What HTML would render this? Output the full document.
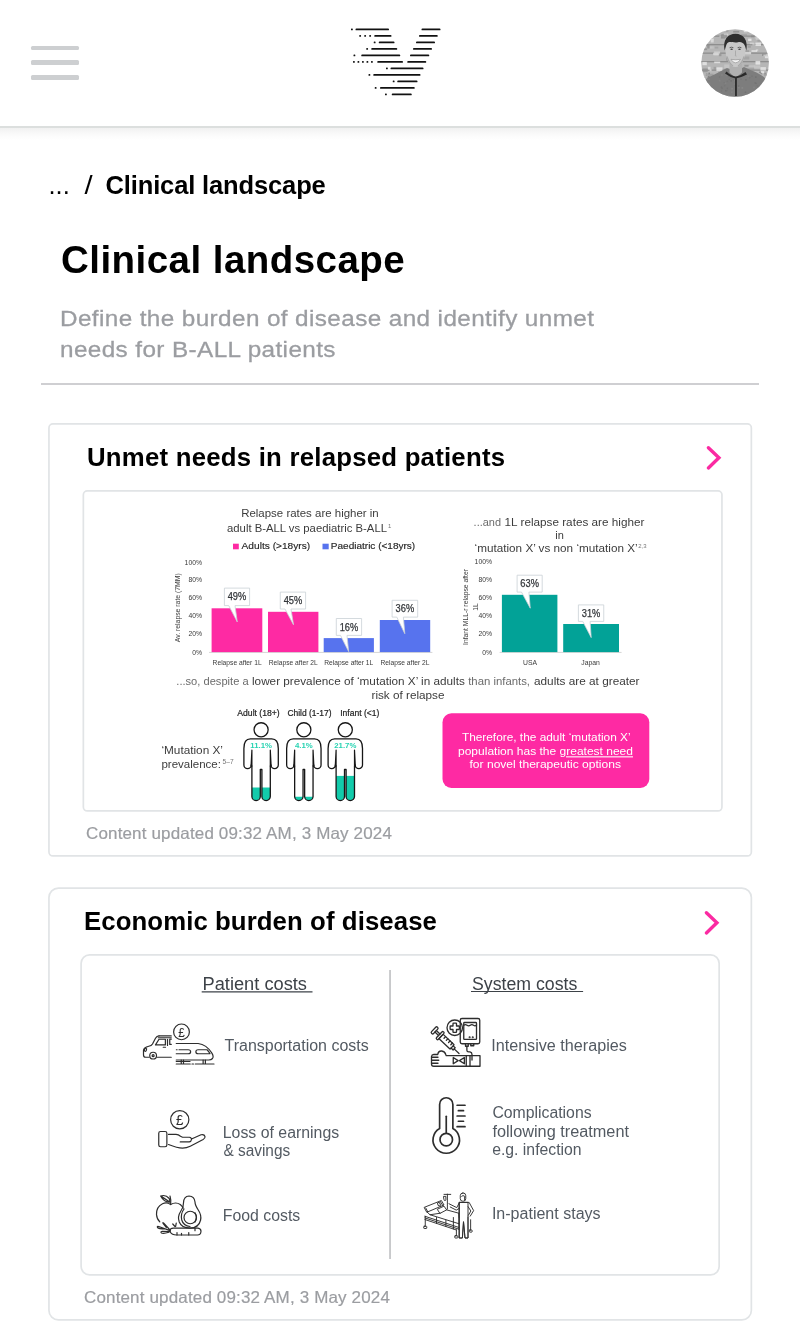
<!DOCTYPE html>
<html lang="en">
<head>
<meta charset="utf-8">
<title>Clinical landscape</title>
<style>
*{box-sizing:border-box;margin:0;padding:0}
html,body{width:800px;height:1340px;background:#fff;overflow:hidden}
body{position:relative;will-change:transform;font-family:"Liberation Sans",sans-serif;color:#000}
.abs{position:absolute;white-space:nowrap}
header{position:absolute;left:0;top:0;width:800px;height:126px;background:#fff;border-bottom:0}
.hline{position:absolute;left:0;top:126px;width:800px;height:2px;background:#dcdfde}
.hshadow{position:absolute;left:0;top:128px;width:800px;height:12px;background:linear-gradient(#f1f1f1,#fbfbfb 60%,#fff)}
.burger{position:absolute;left:31px;top:45.5px;width:48px;height:34.5px}
.burger i{position:absolute;left:0;width:48px;height:4.6px;border-radius:1.5px;background:#cdcfd1}
.logo{position:absolute;left:340px;top:20px;width:110px;height:85px}
.avatar{position:absolute;left:701px;top:28.5px;width:68px;height:68px}
nav.crumbs{position:absolute;left:0;top:0}
.crumbs span{position:absolute;white-space:nowrap;font-size:25.5px;line-height:28px;top:171.3px}
h1{position:absolute;left:61px;top:237px;font-size:38.5px;line-height:46px;font-weight:bold;letter-spacing:.46px;white-space:nowrap}
p.lead{position:absolute;left:60px;top:302.7px;-webkit-text-stroke:.3px #9b9da1;font-size:22.5px;line-height:31.5px;letter-spacing:.36px;color:#9b9da1;white-space:nowrap;transform:scaleX(1.08);transform-origin:0 50%}
hr{position:absolute;left:41px;top:383px;width:718px;height:1.5px;border:0;background:#cfcfd2}
.card{position:absolute;background:#fff}
.card svg.figsvg{position:absolute;left:0;top:0;display:block}
.card h2{position:absolute;font-size:25px;line-height:28px;font-weight:bold;white-space:nowrap;transform:scaleX(1.03);transform-origin:0 50%}
.card .upd{position:absolute;font-size:16.5px;line-height:20px;color:#9b9da1;letter-spacing:.15px;transform:scaleX(1.03);transform-origin:0 50%;white-space:nowrap;-webkit-text-stroke:.2px #9b9da1}
.card svg.chev{position:absolute}
svg text{font-family:"Liberation Sans",sans-serif}
</style>
</head>
<body>
<header>
  <div class="burger"><i style="top:0"></i><i style="top:14.8px"></i><i style="top:29.5px"></i></div>
  <svg class="logo" viewBox="340 20 110 85" fill="#111" aria-label="logo"><rect x="351.00" y="28.50" width="1.8" height="1.8" rx=".6"/><rect x="355.50" y="28.45" width="33.50" height="1.9" rx=".9"/><rect x="421.50" y="28.45" width="19.00" height="1.9" rx=".9"/><rect x="359.25" y="35.00" width="1.8" height="1.8" rx=".6"/><rect x="364.25" y="35.00" width="1.8" height="1.8" rx=".6"/><rect x="369.25" y="35.00" width="1.8" height="1.8" rx=".6"/><rect x="374.25" y="34.95" width="17.25" height="1.9" rx=".9"/><rect x="419.00" y="34.95" width="18.75" height="1.9" rx=".9"/><rect x="373.75" y="41.50" width="1.8" height="1.8" rx=".6"/><rect x="378.75" y="41.45" width="15.75" height="1.9" rx=".9"/><rect x="416.00" y="41.45" width="19.00" height="1.9" rx=".9"/><rect x="366.25" y="48.00" width="1.8" height="1.8" rx=".6"/><rect x="371.25" y="47.95" width="26.00" height="1.9" rx=".9"/><rect x="413.00" y="47.95" width="19.00" height="1.9" rx=".9"/><rect x="353.50" y="54.50" width="1.8" height="1.8" rx=".6"/><rect x="361.25" y="54.45" width="39.00" height="1.9" rx=".9"/><rect x="410.00" y="54.45" width="19.25" height="1.9" rx=".9"/><rect x="353.00" y="61.00" width="1.8" height="1.8" rx=".6"/><rect x="357.50" y="61.00" width="1.8" height="1.8" rx=".6"/><rect x="362.00" y="61.00" width="1.8" height="1.8" rx=".6"/><rect x="366.50" y="61.00" width="1.8" height="1.8" rx=".6"/><rect x="371.00" y="61.00" width="1.8" height="1.8" rx=".6"/><rect x="377.25" y="60.95" width="25.75" height="1.9" rx=".9"/><rect x="407.25" y="60.95" width="19.00" height="1.9" rx=".9"/><rect x="386.00" y="67.50" width="1.8" height="1.8" rx=".6"/><rect x="390.50" y="67.45" width="33.00" height="1.9" rx=".9"/><rect x="368.50" y="74.00" width="1.8" height="1.8" rx=".6"/><rect x="373.25" y="73.95" width="47.25" height="1.9" rx=".9"/><rect x="392.75" y="80.50" width="1.8" height="1.8" rx=".6"/><rect x="397.25" y="80.45" width="20.25" height="1.9" rx=".9"/><rect x="374.75" y="87.00" width="1.8" height="1.8" rx=".6"/><rect x="380.00" y="86.95" width="34.75" height="1.9" rx=".9"/><rect x="385.00" y="93.50" width="1.8" height="1.8" rx=".6"/><rect x="391.75" y="93.45" width="20.00" height="1.9" rx=".9"/></svg>
  <svg class="avatar" viewBox="701 28.500 68 68" aria-label="user avatar">
    <defs>
      <clipPath id="avc"><circle cx="735.1" cy="62.500" r="33.800"/></clipPath>
      <filter id="avb"><feGaussianBlur stdDeviation=".45"/></filter>
      <filter id="avb2"><feGaussianBlur stdDeviation=".7"/></filter>
    </defs>
    <g clip-path="url(#avc)">
      <rect x="700" y="28" width="70" height="70" fill="#b6b6b6"/>
      <g fill="#8e8e8e">
        <rect x="700" y="35" width="70" height="1.300"/><rect x="700" y="43.500" width="70" height="1.300"/><rect x="700" y="52" width="70" height="1.300"/>
        <rect x="700" y="60.500" width="70" height="1.300"/><rect x="700" y="69" width="70" height="1.300"/>
      </g>
      <g filter="url(#avb2)"><rect x="730.9" y="57.5" width="6.6" height="2.7" fill="#f0f0f0" opacity=".75"/><rect x="757.4" y="38.7" width="6.0" height="2.7" fill="#a0a0a0" opacity=".75"/><rect x="707.2" y="44.5" width="2.5" height="3.5" fill="#8a8a8a" opacity=".75"/><rect x="740.3" y="49.2" width="4.3" height="3.3" fill="#a0a0a0" opacity=".75"/><rect x="742.1" y="71.4" width="2.3" height="1.6" fill="#d8d8d8" opacity=".75"/><rect x="740.6" y="68.7" width="3.6" height="3.0" fill="#d8d8d8" opacity=".75"/><rect x="735.3" y="61.7" width="4.5" height="3.2" fill="#909090" opacity=".75"/><rect x="744.2" y="49.7" width="4.8" height="3.8" fill="#989898" opacity=".75"/><rect x="747.7" y="45.1" width="3.1" height="2.2" fill="#989898" opacity=".75"/><rect x="738.2" y="34.5" width="2.5" height="2.2" fill="#989898" opacity=".75"/><rect x="764.2" y="72.2" width="2.0" height="2.0" fill="#8a8a8a" opacity=".75"/><rect x="732.0" y="79.0" width="4.0" height="1.7" fill="#d8d8d8" opacity=".75"/><rect x="752.4" y="42.8" width="2.4" height="2.3" fill="#c8c8c8" opacity=".75"/><rect x="751.0" y="35.0" width="3.2" height="1.8" fill="#8a8a8a" opacity=".75"/><rect x="731.7" y="53.8" width="5.4" height="2.0" fill="#f0f0f0" opacity=".75"/><rect x="713.6" y="66.3" width="2.7" height="3.1" fill="#989898" opacity=".75"/><rect x="727.1" y="79.5" width="2.0" height="3.7" fill="#e4e4e4" opacity=".75"/><rect x="766.9" y="30.0" width="2.9" height="4.0" fill="#989898" opacity=".75"/><rect x="703.8" y="36.5" width="4.2" height="1.5" fill="#ececec" opacity=".75"/><rect x="755.8" y="48.7" width="2.4" height="2.0" fill="#d8d8d8" opacity=".75"/><rect x="702.0" y="47.8" width="5.1" height="1.8" fill="#909090" opacity=".75"/><rect x="755.9" y="35.9" width="3.9" height="3.1" fill="#e4e4e4" opacity=".75"/><rect x="761.0" y="70.7" width="3.2" height="2.0" fill="#f0f0f0" opacity=".75"/><rect x="714.0" y="77.5" width="6.4" height="3.0" fill="#c8c8c8" opacity=".75"/><rect x="704.1" y="34.6" width="4.6" height="2.1" fill="#c8c8c8" opacity=".75"/><rect x="718.0" y="71.0" width="5.0" height="2.2" fill="#a0a0a0" opacity=".75"/><rect x="762.3" y="78.8" width="2.6" height="2.7" fill="#989898" opacity=".75"/><rect x="719.5" y="75.8" width="3.0" height="1.5" fill="#e4e4e4" opacity=".75"/><rect x="728.2" y="41.7" width="2.2" height="2.2" fill="#f0f0f0" opacity=".75"/><rect x="738.8" y="35.7" width="3.8" height="3.7" fill="#ececec" opacity=".75"/><rect x="744.4" y="64.3" width="4.9" height="1.9" fill="#8a8a8a" opacity=".75"/><rect x="762.0" y="53.2" width="3.8" height="2.3" fill="#8a8a8a" opacity=".75"/><rect x="702.4" y="61.4" width="4.4" height="3.3" fill="#ececec" opacity=".75"/><rect x="710.0" y="32.7" width="4.3" height="2.4" fill="#8a8a8a" opacity=".75"/><rect x="760.4" y="66.6" width="5.5" height="3.5" fill="#ececec" opacity=".75"/><rect x="724.2" y="63.9" width="6.5" height="3.7" fill="#c8c8c8" opacity=".75"/><rect x="763.3" y="30.5" width="4.5" height="1.5" fill="#c8c8c8" opacity=".75"/><rect x="726.0" y="29.6" width="2.4" height="1.7" fill="#989898" opacity=".75"/><rect x="766.6" y="73.9" width="5.6" height="2.5" fill="#909090" opacity=".75"/><rect x="730.1" y="71.8" width="2.4" height="3.4" fill="#8a8a8a" opacity=".75"/><rect x="721.5" y="33.5" width="2.1" height="3.9" fill="#989898" opacity=".75"/><rect x="733.8" y="60.3" width="6.6" height="2.1" fill="#8a8a8a" opacity=".75"/><rect x="725.3" y="36.3" width="5.1" height="2.8" fill="#ececec" opacity=".75"/><rect x="744.6" y="51.5" width="6.5" height="2.3" fill="#e4e4e4" opacity=".75"/><rect x="714.1" y="51.0" width="6.0" height="3.8" fill="#d8d8d8" opacity=".75"/><rect x="726.4" y="58.7" width="3.6" height="1.8" fill="#909090" opacity=".75"/><rect x="724.1" y="74.7" width="2.2" height="1.7" fill="#e4e4e4" opacity=".75"/><rect x="755.2" y="34.8" width="4.4" height="3.8" fill="#c8c8c8" opacity=".75"/><rect x="726.2" y="55.5" width="5.4" height="3.3" fill="#909090" opacity=".75"/><rect x="722.1" y="71.3" width="3.4" height="3.0" fill="#e4e4e4" opacity=".75"/><rect x="738.7" y="44.8" width="6.0" height="1.5" fill="#a0a0a0" opacity=".75"/><rect x="727.7" y="38.7" width="5.8" height="2.2" fill="#a0a0a0" opacity=".75"/><rect x="753.6" y="79.2" width="2.6" height="1.8" fill="#f0f0f0" opacity=".75"/><rect x="744.2" y="70.2" width="6.8" height="3.2" fill="#d8d8d8" opacity=".75"/><rect x="755.4" y="42.1" width="5.6" height="3.4" fill="#f0f0f0" opacity=".75"/><rect x="748.1" y="38.1" width="3.4" height="2.4" fill="#f0f0f0" opacity=".75"/><rect x="734.0" y="79.8" width="2.8" height="3.6" fill="#d8d8d8" opacity=".75"/><rect x="706.8" y="76.6" width="5.6" height="1.8" fill="#909090" opacity=".75"/><rect x="714.0" y="74.3" width="2.0" height="2.9" fill="#f0f0f0" opacity=".75"/><rect x="753.6" y="77.2" width="4.3" height="3.1" fill="#d8d8d8" opacity=".75"/><rect x="707.5" y="73.2" width="6.0" height="3.8" fill="#989898" opacity=".75"/><rect x="715.1" y="74.9" width="6.9" height="3.9" fill="#f0f0f0" opacity=".75"/><rect x="765.5" y="76.5" width="3.3" height="3.3" fill="#8a8a8a" opacity=".75"/><rect x="724.0" y="33.2" width="4.2" height="2.9" fill="#e4e4e4" opacity=".75"/><rect x="733.2" y="30.4" width="6.0" height="1.7" fill="#8a8a8a" opacity=".75"/><rect x="712.4" y="46.1" width="5.9" height="1.9" fill="#a0a0a0" opacity=".75"/><rect x="767.0" y="74.9" width="4.6" height="3.2" fill="#909090" opacity=".75"/><rect x="763.4" y="54.1" width="6.7" height="1.7" fill="#d8d8d8" opacity=".75"/><rect x="730.0" y="57.5" width="6.2" height="2.9" fill="#a0a0a0" opacity=".75"/><rect x="735.5" y="72.0" width="4.8" height="2.3" fill="#c8c8c8" opacity=".75"/><rect x="764.0" y="73.4" width="5.0" height="2.3" fill="#a0a0a0" opacity=".75"/><rect x="764.9" y="55.7" width="4.9" height="2.0" fill="#f0f0f0" opacity=".75"/><rect x="708.5" y="29.3" width="3.9" height="2.8" fill="#8a8a8a" opacity=".75"/><rect x="735.1" y="49.4" width="6.0" height="2.9" fill="#909090" opacity=".75"/><rect x="707.2" y="37.5" width="6.7" height="2.6" fill="#c8c8c8" opacity=".75"/><rect x="718.8" y="53.1" width="2.6" height="2.6" fill="#909090" opacity=".75"/><rect x="735.6" y="34.5" width="4.1" height="1.6" fill="#e4e4e4" opacity=".75"/><rect x="709.5" y="68.7" width="2.1" height="2.0" fill="#d8d8d8" opacity=".75"/><rect x="701.8" y="43.5" width="5.6" height="2.1" fill="#909090" opacity=".75"/><rect x="707.9" y="66.3" width="2.6" height="2.8" fill="#e4e4e4" opacity=".75"/><rect x="748.4" y="64.8" width="6.4" height="1.6" fill="#c8c8c8" opacity=".75"/><rect x="755.5" y="60.4" width="4.7" height="3.7" fill="#f0f0f0" opacity=".75"/><rect x="743.1" y="56.0" width="6.3" height="3.0" fill="#a0a0a0" opacity=".75"/><rect x="716.4" y="66.8" width="6.1" height="3.8" fill="#ececec" opacity=".75"/><rect x="740.8" y="74.4" width="3.0" height="3.4" fill="#d8d8d8" opacity=".75"/><rect x="759.6" y="35.8" width="3.2" height="3.3" fill="#e4e4e4" opacity=".75"/><rect x="726.6" y="51.2" width="6.7" height="2.9" fill="#a0a0a0" opacity=".75"/><rect x="714.2" y="61.0" width="6.0" height="1.7" fill="#ececec" opacity=".75"/><rect x="761.2" y="78.4" width="2.6" height="2.8" fill="#ececec" opacity=".75"/><rect x="734.2" y="64.0" width="2.9" height="1.7" fill="#989898" opacity=".75"/><rect x="702.6" y="67.9" width="5.1" height="3.8" fill="#909090" opacity=".75"/><rect x="710.7" y="38.4" width="3.0" height="3.6" fill="#e4e4e4" opacity=".75"/><rect x="762.2" y="33.9" width="2.3" height="3.9" fill="#909090" opacity=".75"/><rect x="706.1" y="33.9" width="4.0" height="2.6" fill="#ececec" opacity=".75"/><rect x="729.4" y="59.6" width="2.1" height="3.3" fill="#d8d8d8" opacity=".75"/><rect x="713.0" y="52.2" width="5.7" height="2.5" fill="#d8d8d8" opacity=".75"/><rect x="740.9" y="33.8" width="6.0" height="2.3" fill="#989898" opacity=".75"/><rect x="753.9" y="64.9" width="6.3" height="3.1" fill="#c8c8c8" opacity=".75"/><rect x="738.6" y="38.7" width="4.9" height="2.4" fill="#e4e4e4" opacity=".75"/><rect x="719.4" y="34.9" width="5.7" height="1.9" fill="#c8c8c8" opacity=".75"/><rect x="709.8" y="45.8" width="4.7" height="2.4" fill="#c8c8c8" opacity=".75"/><rect x="751.5" y="49.7" width="5.6" height="1.7" fill="#ececec" opacity=".75"/><rect x="720.9" y="34.1" width="6.4" height="4.0" fill="#8a8a8a" opacity=".75"/><rect x="716.3" y="77.2" width="5.3" height="2.3" fill="#c8c8c8" opacity=".75"/><rect x="738.6" y="56.2" width="3.9" height="4.0" fill="#d8d8d8" opacity=".75"/><rect x="747.3" y="67.8" width="6.9" height="1.6" fill="#989898" opacity=".75"/><rect x="749.8" y="42.1" width="4.0" height="1.6" fill="#d8d8d8" opacity=".75"/><rect x="743.8" y="29.5" width="3.3" height="2.2" fill="#ececec" opacity=".75"/><rect x="737.3" y="54.9" width="6.8" height="2.9" fill="#989898" opacity=".75"/><rect x="743.1" y="70.3" width="2.4" height="3.0" fill="#8a8a8a" opacity=".75"/></g>
      <g filter="url(#avb)">
        <path d="M700 100V86C703 78 712 75.500 727 67.500L735.500 71L744 66.500C756 72 766 75 770 84V100Z" fill="#7d7d7d"/>
        <g opacity=".6"><rect x="727.7" y="94.4" width="1.6" height="1.6" fill="#909090"/><rect x="733.2" y="74.4" width="1.6" height="1.6" fill="#909090"/><rect x="737.7" y="85.5" width="1.6" height="1.6" fill="#909090"/><rect x="763.5" y="80.9" width="1.6" height="1.6" fill="#707070"/><rect x="728.5" y="78.1" width="1.6" height="1.6" fill="#707070"/><rect x="721.3" y="87.0" width="1.6" height="1.6" fill="#707070"/><rect x="762.5" y="87.3" width="1.6" height="1.6" fill="#8a8a8a"/><rect x="704.7" y="90.1" width="1.6" height="1.6" fill="#707070"/><rect x="705.7" y="74.1" width="1.6" height="1.6" fill="#909090"/><rect x="706.4" y="78.2" width="1.6" height="1.6" fill="#909090"/><rect x="706.2" y="95.7" width="1.6" height="1.6" fill="#8a8a8a"/><rect x="707.7" y="93.5" width="1.6" height="1.6" fill="#909090"/><rect x="749.0" y="76.5" width="1.6" height="1.6" fill="#747474"/><rect x="705.9" y="72.6" width="1.6" height="1.6" fill="#909090"/><rect x="712.2" y="95.0" width="1.6" height="1.6" fill="#747474"/><rect x="741.6" y="73.0" width="1.6" height="1.6" fill="#707070"/><rect x="729.7" y="73.1" width="1.6" height="1.6" fill="#6c6c6c"/><rect x="725.8" y="74.0" width="1.6" height="1.6" fill="#8a8a8a"/><rect x="731.3" y="87.4" width="1.6" height="1.6" fill="#909090"/><rect x="741.5" y="86.6" width="1.6" height="1.6" fill="#909090"/><rect x="726.3" y="89.3" width="1.6" height="1.6" fill="#747474"/><rect x="764.0" y="89.1" width="1.6" height="1.6" fill="#747474"/><rect x="733.8" y="83.1" width="1.6" height="1.6" fill="#8a8a8a"/><rect x="753.2" y="86.2" width="1.6" height="1.6" fill="#8a8a8a"/><rect x="720.6" y="85.9" width="1.6" height="1.6" fill="#707070"/><rect x="747.7" y="74.9" width="1.6" height="1.6" fill="#8a8a8a"/><rect x="751.2" y="74.9" width="1.6" height="1.6" fill="#747474"/><rect x="735.1" y="87.0" width="1.6" height="1.6" fill="#747474"/><rect x="759.2" y="71.0" width="1.6" height="1.6" fill="#6c6c6c"/><rect x="703.6" y="76.7" width="1.6" height="1.6" fill="#6c6c6c"/><rect x="742.9" y="72.7" width="1.6" height="1.6" fill="#707070"/><rect x="720.8" y="89.7" width="1.6" height="1.6" fill="#747474"/><rect x="738.2" y="86.4" width="1.6" height="1.6" fill="#8a8a8a"/><rect x="734.0" y="79.2" width="1.6" height="1.6" fill="#8a8a8a"/><rect x="725.0" y="89.4" width="1.6" height="1.6" fill="#6c6c6c"/><rect x="754.3" y="81.6" width="1.6" height="1.6" fill="#707070"/><rect x="756.6" y="90.0" width="1.6" height="1.6" fill="#909090"/><rect x="730.2" y="76.7" width="1.6" height="1.6" fill="#747474"/><rect x="726.6" y="87.0" width="1.6" height="1.6" fill="#707070"/><rect x="723.8" y="84.3" width="1.6" height="1.6" fill="#747474"/><rect x="730.4" y="79.6" width="1.6" height="1.6" fill="#6c6c6c"/><rect x="732.6" y="78.4" width="1.6" height="1.6" fill="#707070"/><rect x="708.3" y="84.7" width="1.6" height="1.6" fill="#909090"/><rect x="755.2" y="82.1" width="1.6" height="1.6" fill="#6c6c6c"/><rect x="707.9" y="75.5" width="1.6" height="1.6" fill="#707070"/><rect x="708.2" y="77.9" width="1.6" height="1.6" fill="#8a8a8a"/><rect x="721.1" y="73.7" width="1.6" height="1.6" fill="#8a8a8a"/><rect x="745.1" y="78.5" width="1.6" height="1.6" fill="#6c6c6c"/><rect x="723.6" y="81.5" width="1.6" height="1.6" fill="#707070"/><rect x="761.8" y="94.4" width="1.6" height="1.6" fill="#8a8a8a"/><rect x="731.0" y="90.9" width="1.6" height="1.6" fill="#8a8a8a"/><rect x="732.3" y="75.8" width="1.6" height="1.6" fill="#707070"/><rect x="718.9" y="79.4" width="1.6" height="1.6" fill="#8a8a8a"/><rect x="704.5" y="87.6" width="1.6" height="1.6" fill="#707070"/><rect x="727.8" y="75.1" width="1.6" height="1.6" fill="#707070"/><rect x="726.6" y="80.1" width="1.6" height="1.6" fill="#747474"/><rect x="756.5" y="84.6" width="1.6" height="1.6" fill="#747474"/><rect x="708.7" y="81.8" width="1.6" height="1.6" fill="#8a8a8a"/><rect x="755.0" y="75.8" width="1.6" height="1.6" fill="#6c6c6c"/><rect x="737.8" y="84.8" width="1.6" height="1.6" fill="#6c6c6c"/><rect x="744.7" y="90.9" width="1.6" height="1.6" fill="#6c6c6c"/><rect x="740.2" y="77.9" width="1.6" height="1.6" fill="#707070"/><rect x="708.4" y="72.1" width="1.6" height="1.6" fill="#6c6c6c"/><rect x="760.5" y="72.2" width="1.6" height="1.6" fill="#747474"/><rect x="709.2" y="91.2" width="1.6" height="1.6" fill="#909090"/><rect x="718.7" y="75.7" width="1.6" height="1.6" fill="#707070"/><rect x="724.6" y="81.9" width="1.6" height="1.6" fill="#8a8a8a"/><rect x="724.6" y="95.2" width="1.6" height="1.6" fill="#747474"/><rect x="734.6" y="84.0" width="1.6" height="1.6" fill="#6c6c6c"/><rect x="748.3" y="93.8" width="1.6" height="1.6" fill="#909090"/></g>
        <path d="M729.500 62H742V72L735.500 77.500L729.500 72Z" fill="#b0b0b0"/>
        <path d="M725 73Q730 76.800 735.600 78Q742 76.800 747 74L745.500 71.500Q740 75.500 735.600 76Q730 75 726.500 71Z" fill="#2a2a2a"/>
        <path d="M735 77.500H736.900V95.500H735Z" fill="#2e2e2e"/>
        <path d="M725.500 50C725 41 729 37.500 735.500 37.500C742 37.500 746 41 745.500 50C745.300 58 741.500 66.600 735.500 66.600C729.500 66.600 725.700 58 725.500 50Z" fill="#c8c8c8"/>
        <path d="M724.600 50C722.600 39.500 727.500 33.300 735.500 33.300C743.500 33.300 748.200 39.500 746.400 50L745 45.500C743.500 42 741 41.200 738 41.700C735 42.300 731 41.400 729.200 41.600C727.500 42 726.600 43.500 726 45.500Z" fill="#2f2f2f"/>
        <path d="M729.600 47.200Q731.500 46.200 733.400 47.200M737.600 47.200Q739.500 46.200 741.400 47.200" stroke="#555" stroke-width=".9" fill="none"/>
        <ellipse cx="731.600" cy="48.800" rx="1.300" ry=".8" fill="#444"/><ellipse cx="739.500" cy="48.800" rx="1.300" ry=".8" fill="#444"/>
        <path d="M735.500 50V54.500Q734.500 55.500 736.500 55.600" stroke="#a2a2a2" stroke-width=".8" fill="none"/>
        <path d="M727 56Q729 63 733 65.500M744 56Q742 63 738 65.500" stroke="#a8a8a8" stroke-width="1.200" fill="none"/>
        <path d="M731 58.800Q735.500 60 740.400 58.800Q738.500 62.300 735.600 62.300Q732.800 62.300 731 58.800Z" fill="#f4f4f4" stroke="#7a7a7a" stroke-width=".5"/>
      </g>
    </g>
  </svg>
</header>
<div class="hline"></div><div class="hshadow"></div>

<nav class="crumbs">
  <span style="left:48.5px">...</span>
  <span style="left:84.8px;transform:scale(1.15,1.04);transform-origin:50% 100%">/</span>
  <span style="left:105.5px;font-weight:bold;letter-spacing:-.13px">Clinical landscape</span>
</nav>
<h1>Clinical landscape</h1>
<p class="lead">Define the burden of disease and identify unmet<br>needs for B-ALL patients</p>
<hr>

<section class="card" id="c1" style="left:48px;top:423px;width:705px;height:435px">
  <svg class="figsvg" width="705" height="435" viewBox="48 423 705 435" role="img" aria-label="Unmet needs chart">
<rect x="48.95" y="423.95" width="702.4" height="432" rx="4" fill="#fff" stroke="#e1e4e6" stroke-width="1.7"/><rect x="83.35" y="490.85" width="638.6" height="320.1" rx="4" fill="#fff" stroke="#e1e4e6" stroke-width="1.7"/>
<text x="241.2" y="517" font-size="11" fill="#3c3c3c" textLength="137.5" lengthAdjust="spacingAndGlyphs">Relapse rates are higher in</text>
<text x="227" y="532" font-size="11" fill="#3c3c3c" textLength="160" lengthAdjust="spacingAndGlyphs">adult B-ALL vs paediatric B-ALL</text>
<text x="388" y="527.6" font-size="6" fill="#777">1</text>
<rect x="233" y="543.7" width="5.8" height="5.6" fill="#fe2aa3"/>
<text x="241.6" y="548.8" font-size="9.8" fill="#262626" textLength="68.6" lengthAdjust="spacingAndGlyphs" stroke="#262626" stroke-width=".15">Adults (&gt;18yrs)</text>
<rect x="322.5" y="543.7" width="6.2" height="5.6" fill="#5773ee"/>
<text x="330.8" y="548.8" font-size="9.8" fill="#262626" textLength="84.4" lengthAdjust="spacingAndGlyphs" stroke="#262626" stroke-width=".15">Paediatric (&lt;18yrs)</text>
<text x="202" y="564.8" font-size="6.8" fill="#3a3a3a" text-anchor="end">100%</text>
<text x="202" y="582.4" font-size="6.8" fill="#3a3a3a" text-anchor="end">80%</text>
<text x="202" y="600.4" font-size="6.8" fill="#3a3a3a" text-anchor="end">60%</text>
<text x="202" y="618.4" font-size="6.8" fill="#3a3a3a" text-anchor="end">40%</text>
<text x="202" y="636.4" font-size="6.8" fill="#3a3a3a" text-anchor="end">20%</text>
<text x="202" y="655.0" font-size="6.8" fill="#3a3a3a" text-anchor="end">0%</text>
<text transform="translate(179.5 607.7) rotate(-90)" font-size="6.8" fill="#3a3a3a" text-anchor="middle" textLength="69" lengthAdjust="spacingAndGlyphs">Av. relapse rate (7MM)</text>
<path d="M209 652.4H432.4" stroke="#d5d5d5" stroke-width="1"/>
<rect x="211.6" y="608.3" width="50.7" height="43.8" fill="#fe2aa3"/>
<rect x="268" y="611.8" width="50.4" height="40.3" fill="#fe2aa3"/>
<rect x="323.7" y="638.1" width="50.2" height="14.0" fill="#5773ee"/>
<rect x="379.8" y="620" width="50.4" height="32.1" fill="#5773ee"/>
<path d="M224.4 588.1H249.6V605.6H235L237.25 621.9L228.75 605.6H224.4Z" fill="#fff" stroke="#c9d1d6" stroke-width=".8" stroke-linejoin="round"/>
<text x="237.0" y="600.4" font-size="10.2" fill="#33363a" text-anchor="middle" textLength="18.6" lengthAdjust="spacingAndGlyphs" stroke="#33363a" stroke-width=".25">49%</text>
<path d="M280.25 592.1H305.6V609H291L293.5 624.75L285 609H280.25Z" fill="#fff" stroke="#c9d1d6" stroke-width=".8" stroke-linejoin="round"/>
<text x="292.925" y="604.2" font-size="10.2" fill="#33363a" text-anchor="middle" textLength="18.6" lengthAdjust="spacingAndGlyphs" stroke="#33363a" stroke-width=".25">45%</text>
<path d="M336.3 618.5H361.6V635.4H347L348.65 651.6L340.5 635.4H336.3Z" fill="#fff" stroke="#c9d1d6" stroke-width=".8" stroke-linejoin="round"/>
<text x="348.95000000000005" y="630.5" font-size="10.2" fill="#33363a" text-anchor="middle" textLength="18.6" lengthAdjust="spacingAndGlyphs" stroke="#33363a" stroke-width=".25">16%</text>
<path d="M392.1 600.3H417.7V617.1H403.4L404.8 633.7L396.8 617.1H392.1Z" fill="#fff" stroke="#c9d1d6" stroke-width=".8" stroke-linejoin="round"/>
<text x="404.9" y="612.3" font-size="10.2" fill="#33363a" text-anchor="middle" textLength="18.6" lengthAdjust="spacingAndGlyphs" stroke="#33363a" stroke-width=".25">36%</text>
<text x="237.1" y="665" font-size="6.8" fill="#3a3a3a" text-anchor="middle" textLength="49" lengthAdjust="spacingAndGlyphs">Relapse after 1L</text>
<text x="293.2" y="665" font-size="6.8" fill="#3a3a3a" text-anchor="middle" textLength="49" lengthAdjust="spacingAndGlyphs">Relapse after 2L</text>
<text x="348.8" y="665" font-size="6.8" fill="#3a3a3a" text-anchor="middle" textLength="49" lengthAdjust="spacingAndGlyphs">Relapse after 1L</text>
<text x="405" y="665" font-size="6.8" fill="#3a3a3a" text-anchor="middle" textLength="49" lengthAdjust="spacingAndGlyphs">Relapse after 2L</text>
<text x="473.6" y="525.5" font-size="11" fill="#6b6b6b" textLength="27.4" lengthAdjust="spacingAndGlyphs">...and</text>
<text x="504.6" y="525.5" font-size="11" fill="#3c3c3c" textLength="139.8" lengthAdjust="spacingAndGlyphs">1L relapse rates are higher</text>
<text x="559.5" y="539" font-size="11" fill="#3c3c3c" text-anchor="middle">in</text>
<text x="474.6" y="551.7" font-size="11" fill="#3c3c3c" textLength="163" lengthAdjust="spacingAndGlyphs">‘mutation X’ vs non ‘mutation X’</text>
<text x="638.2" y="548" font-size="6" fill="#777">2,3</text>
<text x="492" y="563.9" font-size="6.8" fill="#3a3a3a" text-anchor="end">100%</text>
<text x="492" y="581.9" font-size="6.8" fill="#3a3a3a" text-anchor="end">80%</text>
<text x="492" y="600.0" font-size="6.8" fill="#3a3a3a" text-anchor="end">60%</text>
<text x="492" y="618.4" font-size="6.8" fill="#3a3a3a" text-anchor="end">40%</text>
<text x="492" y="636.4" font-size="6.8" fill="#3a3a3a" text-anchor="end">20%</text>
<text x="492" y="654.8" font-size="6.8" fill="#3a3a3a" text-anchor="end">0%</text>
<text transform="translate(467.7 607) rotate(-90)" font-size="6.8" fill="#3a3a3a" text-anchor="middle" textLength="76" lengthAdjust="spacingAndGlyphs">Infant MLL-r relapse after</text>
<text transform="translate(477.8 607) rotate(-90)" font-size="6.8" fill="#3a3a3a" text-anchor="middle">1L</text>
<path d="M499.6 652.4H621.6" stroke="#d5d5d5" stroke-width="1"/>
<rect x="501.9" y="594.8" width="55.5" height="57.3" fill="#02a297"/>
<rect x="563.2" y="624" width="55.8" height="28.1" fill="#02a297"/>
<path d="M517.1 575.2H542.2V592.1H528.9L530.25 608.2L521.5 592.1H517.1Z" fill="#fff" stroke="#c9d1d6" stroke-width=".8" stroke-linejoin="round"/>
<text x="529.6500000000001" y="587.3" font-size="10.2" fill="#33363a" text-anchor="middle" textLength="18.6" lengthAdjust="spacingAndGlyphs" stroke="#33363a" stroke-width=".25">63%</text>
<path d="M578.4 604.9H603.75V621.4H590.1L591.2 637.6L582.75 621.4H578.4Z" fill="#fff" stroke="#c9d1d6" stroke-width=".8" stroke-linejoin="round"/>
<text x="591.075" y="616.8" font-size="10.2" fill="#33363a" text-anchor="middle" textLength="18.6" lengthAdjust="spacingAndGlyphs" stroke="#33363a" stroke-width=".25">31%</text>
<text x="530" y="665.1" font-size="6.8" fill="#3a3a3a" text-anchor="middle">USA</text>
<text x="590.6" y="665.1" font-size="6.8" fill="#3a3a3a" text-anchor="middle">Japan</text>
<text x="176.3" y="685" font-size="11" fill="#6b6b6b" textLength="72.3" lengthAdjust="spacingAndGlyphs">...so, despite a</text>
<text x="252" y="685" font-size="11" fill="#3c3c3c" textLength="212.8" lengthAdjust="spacingAndGlyphs">lower prevalence of ‘mutation X’ in adults</text>
<text x="468.2" y="685" font-size="11" fill="#6b6b6b" textLength="61.8" lengthAdjust="spacingAndGlyphs">than infants,</text>
<text x="534" y="685" font-size="11" fill="#3c3c3c" textLength="105.5" lengthAdjust="spacingAndGlyphs">adults are at greater</text>
<text x="408" y="699.4" font-size="11" fill="#3c3c3c" text-anchor="middle" textLength="73" lengthAdjust="spacingAndGlyphs">risk of relapse</text>
<text x="237.3" y="715.7" font-size="8.6" fill="#1e1e1e" textLength="42.4" lengthAdjust="spacingAndGlyphs" stroke="#1e1e1e" stroke-width=".2">Adult (18+)</text>
<text x="287.4" y="715.7" font-size="8.6" fill="#1e1e1e" textLength="44.2" lengthAdjust="spacingAndGlyphs" stroke="#1e1e1e" stroke-width=".2">Child (1-17)</text>
<text x="340.2" y="715.7" font-size="8.6" fill="#1e1e1e" textLength="39.1" lengthAdjust="spacingAndGlyphs" stroke="#1e1e1e" stroke-width=".2">Infant (&lt;1)</text>
<clipPath id="pa"><path d="M250.40 738.9 Q243.90 738.9 243.90 748.4 V765 A3.65 3.65 0 0 0 251.20 765 L251.90 766 V796.4 A4.2 4.2 0 0 0 260.30 796.4 V769.5 H261.90 V796.4 A4.2 4.2 0 0 0 270.30 796.4 V766 L271.00 765 A3.65 3.65 0 0 0 278.30 765 V748.4 Q278.30 738.9 271.80 738.9 Z"/></clipPath>
<path d="M250.40 738.9 Q243.90 738.9 243.90 748.4 V765 A3.65 3.65 0 0 0 251.20 765 L251.90 766 V796.4 A4.2 4.2 0 0 0 260.30 796.4 V769.5 H261.90 V796.4 A4.2 4.2 0 0 0 270.30 796.4 V766 L271.00 765 A3.65 3.65 0 0 0 278.30 765 V748.4 Q278.30 738.9 271.80 738.9 Z" fill="#fff"/>
<rect x="241.10" y="787.5" width="40" height="14.5" fill="#12cbab" clip-path="url(#pa)"/>
<path d="M250.40 738.9 Q243.90 738.9 243.90 748.4 V765 A3.65 3.65 0 0 0 251.20 765 L251.90 766 V796.4 A4.2 4.2 0 0 0 260.30 796.4 V769.5 H261.90 V796.4 A4.2 4.2 0 0 0 270.30 796.4 V766 L271.00 765 A3.65 3.65 0 0 0 278.30 765 V748.4 Q278.30 738.9 271.80 738.9 Z" fill="none" stroke="#161616" stroke-width="1.3" stroke-linejoin="round"/>
<path d="M251.90 750 V766 M251.90 750 L251.10 765.5 M270.30 750 V766 M270.30 750 L271.10 765.5" fill="none" stroke="#161616" stroke-width="1.2" stroke-linecap="round"/>
<circle cx="261.1" cy="729.8" r="7.05" fill="#fff" stroke="#161616" stroke-width="1.3"/>
<text x="261.1" y="747.8" font-size="7.8" fill="#27d3b2" text-anchor="middle" font-weight="bold">11.1%</text>
<clipPath id="pb"><path d="M293.15 738.9 Q286.65 738.9 286.65 748.4 V765 A3.65 3.65 0 0 0 293.95 765 L294.65 766 V796.4 A4.2 4.2 0 0 0 303.05 796.4 V769.5 H304.65 V796.4 A4.2 4.2 0 0 0 313.05 796.4 V766 L313.75 765 A3.65 3.65 0 0 0 321.05 765 V748.4 Q321.05 738.9 314.55 738.9 Z"/></clipPath>
<path d="M293.15 738.9 Q286.65 738.9 286.65 748.4 V765 A3.65 3.65 0 0 0 293.95 765 L294.65 766 V796.4 A4.2 4.2 0 0 0 303.05 796.4 V769.5 H304.65 V796.4 A4.2 4.2 0 0 0 313.05 796.4 V766 L313.75 765 A3.65 3.65 0 0 0 321.05 765 V748.4 Q321.05 738.9 314.55 738.9 Z" fill="#fff"/>
<rect x="283.85" y="796.75" width="40" height="5.2" fill="#12cbab" clip-path="url(#pb)"/>
<path d="M293.15 738.9 Q286.65 738.9 286.65 748.4 V765 A3.65 3.65 0 0 0 293.95 765 L294.65 766 V796.4 A4.2 4.2 0 0 0 303.05 796.4 V769.5 H304.65 V796.4 A4.2 4.2 0 0 0 313.05 796.4 V766 L313.75 765 A3.65 3.65 0 0 0 321.05 765 V748.4 Q321.05 738.9 314.55 738.9 Z" fill="none" stroke="#161616" stroke-width="1.3" stroke-linejoin="round"/>
<path d="M294.65 750 V766 M294.65 750 L293.85 765.5 M313.05 750 V766 M313.05 750 L313.85 765.5" fill="none" stroke="#161616" stroke-width="1.2" stroke-linecap="round"/>
<circle cx="303.85" cy="729.8" r="7.05" fill="#fff" stroke="#161616" stroke-width="1.3"/>
<text x="303.85" y="747.8" font-size="7.8" fill="#27d3b2" text-anchor="middle" font-weight="bold">4.1%</text>
<clipPath id="pc"><path d="M334.60 738.9 Q328.10 738.9 328.10 748.4 V765 A3.65 3.65 0 0 0 335.40 765 L336.10 766 V796.4 A4.2 4.2 0 0 0 344.50 796.4 V769.5 H346.10 V796.4 A4.2 4.2 0 0 0 354.50 796.4 V766 L355.20 765 A3.65 3.65 0 0 0 362.50 765 V748.4 Q362.50 738.9 356.00 738.9 Z"/></clipPath>
<path d="M334.60 738.9 Q328.10 738.9 328.10 748.4 V765 A3.65 3.65 0 0 0 335.40 765 L336.10 766 V796.4 A4.2 4.2 0 0 0 344.50 796.4 V769.5 H346.10 V796.4 A4.2 4.2 0 0 0 354.50 796.4 V766 L355.20 765 A3.65 3.65 0 0 0 362.50 765 V748.4 Q362.50 738.9 356.00 738.9 Z" fill="#fff"/>
<rect x="325.30" y="775.9" width="40" height="26.1" fill="#12cbab" clip-path="url(#pc)"/>
<path d="M334.60 738.9 Q328.10 738.9 328.10 748.4 V765 A3.65 3.65 0 0 0 335.40 765 L336.10 766 V796.4 A4.2 4.2 0 0 0 344.50 796.4 V769.5 H346.10 V796.4 A4.2 4.2 0 0 0 354.50 796.4 V766 L355.20 765 A3.65 3.65 0 0 0 362.50 765 V748.4 Q362.50 738.9 356.00 738.9 Z" fill="none" stroke="#161616" stroke-width="1.3" stroke-linejoin="round"/>
<path d="M336.10 750 V766 M336.10 750 L335.30 765.5 M354.50 750 V766 M354.50 750 L355.30 765.5" fill="none" stroke="#161616" stroke-width="1.2" stroke-linecap="round"/>
<circle cx="345.3" cy="729.8" r="7.05" fill="#fff" stroke="#161616" stroke-width="1.3"/>
<text x="345.3" y="747.8" font-size="7.8" fill="#27d3b2" text-anchor="middle" font-weight="bold">21.7%</text>
<text x="161.4" y="754" font-size="11.4" fill="#3c3c3c" textLength="61.6" lengthAdjust="spacingAndGlyphs">‘Mutation X’</text>
<text x="161.4" y="767.6" font-size="11.4" fill="#3c3c3c" textLength="59.6" lengthAdjust="spacingAndGlyphs">prevalence:</text>
<text x="222.6" y="764" font-size="6.6" fill="#777">5–7</text>
<rect x="442.5" y="713.3" width="206.8" height="74.7" rx="9" fill="#fe2aa3"/>
<text x="461.9" y="741" font-size="11" fill="#fff" textLength="168.7" lengthAdjust="spacingAndGlyphs">Therefore, the adult ‘mutation X’</text>
<text x="458" y="755.3" font-size="11" fill="#fff" textLength="175" lengthAdjust="spacingAndGlyphs">population has the <tspan text-decoration="underline">greatest need</tspan></text>
<text x="469.5" y="768" font-size="11" fill="#fff" textLength="151.5" lengthAdjust="spacingAndGlyphs">for novel therapeutic options</text>
</svg>
  <h2 style="left:39.2px;top:19.7px;letter-spacing:.23px">Unmet needs in relapsed patients</h2>
  <svg class="chev" style="left:653.7px;top:18.7px" width="24" height="30" viewBox="0 0 24 30"><path d="M6.4 5.7 L16.9 15.8 L6.4 25.9" fill="none" stroke="#fb2aa2" stroke-width="3.4" stroke-linejoin="miter" stroke-linecap="round"/></svg>
  <p class="upd" style="left:38px;top:399.7px">Content updated 09:32 AM, 3 May 2024</p>
</section>

<section class="card" id="c2" style="left:48px;top:887px;width:705px;height:435px">
  <svg class="figsvg" width="705" height="435" viewBox="48 887 705 435" role="img" aria-label="Economic burden figure">
<rect x="48.95" y="888.1" width="702.4" height="431.85" rx="9.5" fill="#fff" stroke="#e1e4e6" stroke-width="1.7"/><rect x="81.1" y="954.85" width="638.05" height="320.1" rx="8.5" fill="#fff" stroke="#e1e4e6" stroke-width="1.7"/>
<text x="202.5" y="990" font-size="17.5" fill="#3d4248" textLength="104.5" lengthAdjust="spacingAndGlyphs">Patient costs</text>
<path d="M201.7 991.9H312.5" stroke="#3d4248" stroke-width="1.2"/>
<text x="472" y="989.6" font-size="17.5" fill="#3d4248" textLength="105.3" lengthAdjust="spacingAndGlyphs">System costs</text>
<path d="M471 991.5H583.1" stroke="#3d4248" stroke-width="1.2"/>
<rect x="389.1" y="970" width="1.9" height="289" fill="#c8c9cb"/>
<text x="224.5" y="1050.8" font-size="16" fill="#535a62" textLength="144.2" lengthAdjust="spacingAndGlyphs">Transportation costs</text>
<text x="222.8" y="1137.5" font-size="16" fill="#535a62" textLength="116.4" lengthAdjust="spacingAndGlyphs">Loss of earnings</text>
<text x="223.4" y="1156" font-size="16" fill="#535a62" textLength="66.8" lengthAdjust="spacingAndGlyphs">&amp; savings</text>
<text x="222.8" y="1221" font-size="16" fill="#535a62" textLength="77.4" lengthAdjust="spacingAndGlyphs">Food costs</text>
<text x="491.2" y="1051" font-size="16" fill="#535a62" textLength="135.6" lengthAdjust="spacingAndGlyphs">Intensive therapies</text>
<text x="492.4" y="1118" font-size="16" fill="#535a62" textLength="99.2" lengthAdjust="spacingAndGlyphs">Complications</text>
<text x="492.4" y="1136.6" font-size="16" fill="#535a62" textLength="136.6" lengthAdjust="spacingAndGlyphs">following treatment</text>
<text x="492.2" y="1155" font-size="16" fill="#535a62" textLength="89.4" lengthAdjust="spacingAndGlyphs">e.g. infection</text>
<text x="491.9" y="1219.2" font-size="16" fill="#535a62" textLength="108.7" lengthAdjust="spacingAndGlyphs">In-patient stays</text>
<g transform="translate(130 1010) scale(.125)" fill="none" stroke="#2d2d2d" stroke-width="9.6" stroke-linecap="round" stroke-linejoin="round">
<circle cx="412" cy="175" r="63"/>
<path d="M232 207H330M226 222H330"/>
<path d="M232 207Q214 207 204 226L180 272Q172 286 150 290Q110 300 108 322V360Q108 378 126 378H152"/>
<path d="M218 378H330"/>
<circle cx="185" cy="365" r="27"/><circle cx="185" cy="365" r="8"/>
<path d="M204 279L232 234H283V279Z"/>
<path d="M300 234V283M266 298H284M330 233H318V275H330"/>
<ellipse cx="124" cy="318" rx="8" ry="13" transform="rotate(20 124 318)"/>
<path d="M370 268H545Q612 276 655 345Q672 372 660 388Q650 400 630 400H370"/>
<path d="M392 318H466Q485 318 485 334Q485 350 466 350H370M371 318H377"/>
<path d="M545 318H616Q634 334 640 350H545Q527 350 527 334Q527 318 545 318Z"/>
<path d="M370 432H482M496 432H508M522 432H672M370 412H480M410 400V432M428 400V432M585 400V432M603 400V432"/>
</g>
<text x="181.5" y="1036.8" font-size="13.6" fill="#2d2d2d" text-anchor="middle" textLength="6.6" lengthAdjust="spacingAndGlyphs">£</text>
<g transform="translate(140 1095) scale(.125)" fill="none" stroke="#2d2d2d" stroke-width="9.6" stroke-linecap="round" stroke-linejoin="round">
<circle cx="318" cy="198" r="73"/>
<rect x="150" y="292" width="65" height="122" rx="14"/>
<path d="M228 315H288Q308 316 324 330L340 338H395Q413 341 412 356Q410 373 394 375H322"/>
<path d="M412 352L488 318Q514 311 520 332Q523 346 505 356L402 410Q372 425 340 425Q300 424 228 396"/>
</g>
<text x="179.8" y="1125.3" font-size="14.6" fill="#2d2d2d" text-anchor="middle" textLength="7.4" lengthAdjust="spacingAndGlyphs">£</text>
<g transform="translate(140 1180) scale(.125)" fill="none" stroke="#2d2d2d" stroke-width="9.6" stroke-linecap="round" stroke-linejoin="round">
<path d="M245 196Q214 174 180 190Q130 214 132 276Q135 314 158 334"/>
<path d="M245 196Q286 172 322 196Q340 210 346 226"/>
<path d="M245 196Q250 160 240 128"/>
<path d="M165 128Q205 114 234 148Q241 166 238 178Q192 178 165 128ZM176 135L232 172"/>
<path d="M392 128Q350 130 348 182Q350 216 326 250Q298 292 314 336Q332 382 400 385Q470 384 485 320Q493 280 466 240Q440 200 440 176Q436 130 392 128Z"/>
<path d="M352 232Q322 272 334 320Q348 368 400 372"/>
<circle cx="402" cy="300" r="50"/><path d="M440 262Q462 296 440 336"/>
<path d="M242 402Q240 385 266 385H464Q488 388 488 410Q486 440 460 440H292Q256 440 242 416Z"/>
<path d="M296 440V420M332 440V426M390 440V420M440 386V406"/>
<path d="M240 400L190 345Q178 334 186 350L210 380M240 405L150 372Q134 368 140 380Q150 392 200 392M238 412L178 410Q160 414 172 424Q186 432 232 418M262 352L280 372M290 345L285 372"/>
</g>
<g transform="translate(415 1005) scale(.125)" fill="none" stroke="#2d2d2d" stroke-width="10.5" stroke-linecap="round" stroke-linejoin="round">
<rect x="362" y="108" width="156" height="202" rx="14"/>
<rect x="390" y="140" width="102" height="135" rx="6"/>
<path d="M390 162Q403 152 416 162T442 162T468 162T492 160"/>
<circle cx="437" cy="258" r="3" fill="#2d2d2d"/><circle cx="462" cy="258" r="3" fill="#2d2d2d"/>
<path d="M404 310V330H426V310M446 310V326H470V310"/>
<path d="M415 330V362Q415 375 430 375H440Q456 378 456 396V440"/>
<circle cx="318" cy="182" r="62"/>
<path d="M308 145H328Q332 145 332 149V168H351Q355 168 355 172V192Q355 196 351 196H332V215Q332 219 328 219H308Q304 219 304 215V196H285Q281 196 281 192V172Q281 168 285 168H304V149Q304 145 308 145Z"/>
<g transform="translate(152 198) rotate(43.5)">
  <rect x="-4" y="-34" width="22" height="68" rx="10"/>
  <path d="M18 -8H58M18 8H58"/>
  <rect x="58" y="-40" width="20" height="80" rx="9"/>
  <rect x="78" y="-24" width="122" height="48" rx="4"/>
  <path d="M105 -24V-6M130 -24V-6M155 -24V-6M180 -24V-6"/>
  <path d="M200 -12H222V12H200M222 0H276"/>
</g>
<path d="M250 405H520V490H150Q132 490 132 472V412Q134 396 150 396H182Q186 366 214 368Q240 372 246 396Z"/>
<path d="M134 418H184M134 442H190M134 466H184"/>
<path d="M306 420V470L345 445ZM395 420V470L356 445ZM410 405V490M440 405V490"/>
</g>
<g transform="translate(415 1090) scale(.125)" fill="none" stroke="#2d2d2d" stroke-width="13.5" stroke-linecap="round" stroke-linejoin="round">
<path d="M197 115A53 53 0 0 1 303 115V308A106 106 0 1 1 197 308Z"/>
<circle cx="250" cy="397" r="50"/>
<path d="M250 210V345"/>
<path d="M337 122H400M347 165H388M337 208H400M347 250H388M337 293H400"/>
</g>
<g transform="translate(410 1180) scale(.125)" fill="none" stroke="#2d2d2d" stroke-width="7.5" stroke-linecap="round" stroke-linejoin="round">
<path d="M299 113V232M272 115H326M271 131H287V158Q287 164 279 164Q271 164 271 158Z"/>
<path d="M116 218L251 164L272 200L137 257Z"/>
<path d="M126 224L142 254M243 172L262 204"/>
<path d="M221 233L272 209L293 239L242 266Z" fill="#fff"/>
<ellipse cx="232" cy="194" rx="10" ry="15" transform="rotate(-28 232 194)"/>
<path d="M137 257L160 278L240 266M293 239L392 266L394 300M160 278L392 350"/>
<path d="M119 290L392 380M119 303L392 394M119 316L371 400M392 266V394"/>
<path d="M212 300V348M287 322V372M347 300V392"/>
<path d="M122 290V370M371 398V446M485 318V400"/>
<rect x="110" y="370" width="24" height="18" rx="4"/><rect x="358" y="446" width="24" height="18" rx="4"/><rect x="475" y="400" width="22" height="17" rx="4"/>
<path d="M395 179H464V464H440L428 334L419 464H395Z" fill="#fff"/>
<rect x="402" y="104" width="44" height="66" rx="21" fill="#fff"/>
<path d="M413 130Q424 118 437 130V162"/>
<path d="M395 179H473L509 245L482 289M465 214L487 248L467 282"/>
<path d="M395 181L374 221L312 190M395 226L370 241L322 216"/>
<path d="M395 179V464H419L428 334L440 464H464V296"/>
</g>
</svg>
  <h2 style="left:36.2px;top:20.4px;letter-spacing:.09px">Economic burden of disease</h2>
  <svg class="chev" style="left:651.7px;top:19.8px" width="24" height="30" viewBox="0 0 24 30"><path d="M6.4 5.7 L16.9 15.8 L6.4 25.9" fill="none" stroke="#fb2aa2" stroke-width="3.4" stroke-linejoin="miter" stroke-linecap="round"/></svg>
  <p class="upd" style="left:35.9px;top:399.6px">Content updated 09:32 AM, 3 May 2024</p>
</section>
</body>
</html>
